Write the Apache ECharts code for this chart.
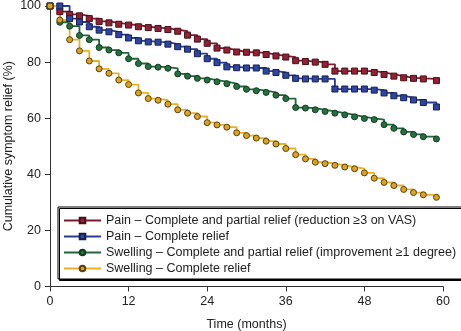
<!DOCTYPE html>
<html>
<head>
<meta charset="utf-8">
<script src="https://cdn.jsdelivr.net/npm/echarts@6/dist/echarts.min.js"></script>
<style>
  html, body { margin: 0; padding: 0; background: #fff; }
  #chart { width: 461px; height: 331px; }
</style>
</head>
<body>
<div id="chart"></div>
<script>
// Follow-up times (months) at which survival estimates are plotted
const months = [0, 1.5, 3, 4.5, 6, 7.5, 9, 10.5, 12, 13.5, 15, 16.5, 18, 19.5, 21, 22.5, 24, 25.5, 27, 28.5,
  30, 31.5, 33, 34.5, 36, 37.5, 39, 40.5, 42, 43.5, 45, 46.5, 48, 49.5, 51, 52.5, 54, 55.5, 57, 59];

// Cumulative relief (%) for each outcome
const painPartial = [100, 98, 97, 96.5, 95.5, 94.5, 94, 93.5, 93.2, 92.6, 92.3, 92, 91.6, 91, 89.6, 88.2, 86.7, 85, 84.3, 83.6,
  83.5, 83.3, 82.7, 82.2, 81.8, 80.5, 80.2, 80, 79.2, 76.8, 76.8, 76.8, 76.8, 76.3, 75.6, 75, 74.4, 74.2, 74, 73.4];
const painComplete = [100, 100, 95.5, 94.3, 92.6, 91.4, 90.8, 89.8, 88.6, 87.6, 87.2, 87.1, 86.4, 85.5, 84.6, 83, 81.2, 79.8, 78.3, 78,
  77.9, 77.9, 76.8, 76.3, 75.3, 74.2, 74, 74, 74, 70.4, 70.4, 70.4, 70.4, 70, 69, 68, 67.3, 66.5, 65.6, 64];
const swellPartial = [100, 94.2, 92.8, 89.5, 88, 85.2, 84.3, 83.3, 81.2, 79.5, 78.4, 78.2, 77.8, 75.8, 75, 74.2, 73.6, 73, 72.3, 71.3,
  70.3, 69.8, 69.2, 68.2, 67, 63.8, 63.6, 63, 62.4, 61.8, 61.2, 60.5, 59.9, 59.5, 57.7, 56.4, 55.1, 54.2, 53.4, 52.6];
const swellComplete = [100, 95, 88, 84, 80.4, 77.6, 76, 73.6, 72, 69, 67, 66.4, 65, 63, 61.8, 60.6, 58.4, 57.6, 56.8, 54.8,
  53.8, 52.9, 51.8, 50.8, 49.2, 47, 45.5, 44.3, 43.8, 43.2, 42.6, 42, 40.5, 38.6, 37.1, 36, 34.6, 33.5, 32.7, 31.8];

const seriesNames = [
  'Pain \u2013 Complete and partial relief (reduction \u22653 on VAS)',
  'Pain \u2013 Complete relief',
  'Swelling \u2013 Complete and partial relief (improvement \u22651 degree)',
  'Swelling \u2013 Complete relief'
];
const xTicks = [0, 12, 24, 36, 48, 60];
const yTicks = [0, 20, 40, 60, 80, 100];

const FONT = '"Liberation Sans", Arial, Helvetica, sans-serif';

function pairs(vals) {
  return months.map((m, i) => [m, vals[i]]);
}

function kmSeries(name, vals, line, fill, border, symbol, size) {
  return {
    name: name,
    type: 'line',
    step: 'end',
    data: pairs(vals),
    symbol: symbol,
    symbolSize: size,
    showAllSymbol: true,
    lineStyle: { color: line, width: 1.8 },
    itemStyle: { color: fill, borderColor: border, borderWidth: 1 },
    emphasis: { disabled: true },
    animation: false
  };
}

const chart = echarts.init(document.getElementById('chart'), null, { renderer: 'canvas' });
chart.setOption({
  backgroundColor: '#fff',
  animation: false,
  textStyle: { fontFamily: FONT },
  grid: { left: 50, right: 18, top: 6, bottom: 44.5, containLabel: false, outerBoundsMode: 'none' },
  xAxis: {
    type: 'value',
    min: 0, max: 60, interval: 12,
    name: 'Time (months)',
    nameLocation: 'middle',
    nameGap: 32,
    nameMoveOverlap: false,
    nameTextStyle: { fontSize: 12.5, color: '#222', fontFamily: FONT },
    axisLine: { show: true, lineStyle: { color: '#333', width: 1 } },
    axisTick: { show: true, length: 5, lineStyle: { color: '#333' } },
    axisLabel: {
      fontSize: 12.5, color: '#222', margin: 9, fontFamily: FONT,
      formatter: v => (xTicks.indexOf(v) >= 0 ? String(v) : '')
    },
    splitLine: { show: false }
  },
  yAxis: {
    type: 'value',
    min: 0, max: 100, interval: 20,
    name: 'Cumulative symptom relief (%)',
    nameLocation: 'middle',
    nameGap: 35,
    nameRotate: 90,
    nameMoveOverlap: false,
    nameTextStyle: { fontSize: 12.5, color: '#222', fontFamily: FONT },
    axisLine: { show: true, lineStyle: { color: '#333', width: 1 } },
    axisTick: { show: true, length: 5, lineStyle: { color: '#333' } },
    axisLabel: {
      fontSize: 12.5, color: '#222', margin: 9, fontFamily: FONT,
      formatter: v => (yTicks.indexOf(v) >= 0 ? String(v) : '')
    },
    splitLine: { show: false }
  },
  legend: {
    orient: 'vertical',
    left: 58,
    top: 207,
    data: seriesNames,
    itemWidth: 37,
    itemHeight: 7,
    itemGap: 1,
    padding: [6, 10, 3, 5],
    backgroundColor: '#fff',
    borderColor: '#000',
    borderWidth: 1,
    shadowColor: '#000',
    shadowBlur: 0,
    shadowOffsetX: 1.5,
    shadowOffsetY: 1.5,
    selectedMode: false,
    textStyle: { fontSize: 12.5, color: '#222', fontFamily: FONT, lineHeight: 15 }
  },
  series: [
    kmSeries(seriesNames[0], painPartial, '#7a1c2c', '#8e2336', '#4a0e18', 'rect', 6),
    kmSeries(seriesNames[1], painComplete, '#2a3c8c', '#2f45a0', '#15204f', 'rect', 6),
    kmSeries(seriesNames[2], swellPartial, '#22653a', '#26703f', '#123a20', 'circle', 6),
    kmSeries(seriesNames[3], swellComplete, '#e6b02c', '#d9a324', '#5a4010', 'circle', 6)
  ]
});
</script>
</body>
</html>
